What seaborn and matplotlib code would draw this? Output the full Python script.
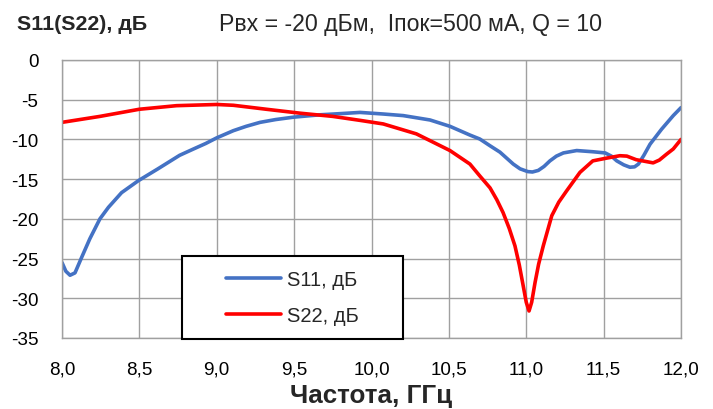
import numpy as np
import pandas as pd
import seaborn as sns
import matplotlib
matplotlib.use('Agg')
import matplotlib.pyplot as plt
from matplotlib import font_manager
from matplotlib.patches import Rectangle

# S11 readings (GHz, dB)
freq_s11 = [8.0, 8.025, 8.052, 8.084, 8.127, 8.18, 8.245, 8.30, 8.385, 8.493, 8.62,
            8.76, 8.85, 8.93, 9.0, 9.107, 9.19, 9.28, 9.38, 9.495, 9.58, 9.667, 9.80,
            9.926, 10.076, 10.205, 10.378, 10.507, 10.636, 10.70, 10.766, 10.83,
            10.916, 10.96, 11.01, 11.04, 11.078, 11.115, 11.153, 11.195, 11.24,
            11.326, 11.43, 11.51, 11.55, 11.585, 11.63, 11.67, 11.70, 11.725,
            11.76, 11.80, 11.875, 11.95, 12.0]
db_s11 = [-25.5, -26.6, -27.1, -26.8, -24.85, -22.5, -20.0, -18.55, -16.7, -15.2, -13.7,
          -12.0, -11.2, -10.5, -9.8, -8.9, -8.35, -7.85, -7.5, -7.2, -7.05, -6.9, -6.75,
          -6.6, -6.8, -7.0, -7.55, -8.35, -9.45, -9.95, -10.8, -11.6,
          -13.1, -13.7, -14.05, -14.1, -13.9, -13.4, -12.7, -12.1, -11.7,
          -11.4, -11.55, -11.7, -12.1, -12.7, -13.2, -13.5, -13.45, -13.1,
          -12.0, -10.6, -8.7, -7.0, -6.0]

# S22 readings (GHz, dB)
freq_s22 = [8.0, 8.245, 8.5, 8.74, 9.0, 9.107, 9.32, 9.54, 9.75, 9.926, 10.076, 10.29,
            10.507, 10.636, 10.70, 10.766, 10.81, 10.85, 10.89, 10.927, 10.955, 10.98,
            11.0, 11.018, 11.035, 11.057, 11.08, 11.11, 11.165, 11.21, 11.26, 11.347,
            11.43, 11.52, 11.605, 11.65, 11.71, 11.82, 11.86, 11.907, 11.95, 12.0]
db_s22 = [-7.85, -7.1, -6.2, -5.75, -5.6, -5.7, -6.2, -6.7, -7.1, -7.6, -8.05, -9.3,
          -11.4, -13.1, -14.6, -16.1, -17.6, -19.2, -21.2, -23.4, -25.8, -28.4,
          -30.5, -31.6, -30.5, -28.0, -25.7, -23.4, -19.6, -17.9, -16.5, -14.15,
          -12.7, -12.35, -12.05, -12.1, -12.55, -12.95, -12.6, -11.85, -11.2, -10.0]

x_ticks = [8.0, 8.5, 9.0, 9.5, 10.0, 10.5, 11.0, 11.5, 12.0]
y_ticks = [0, -5, -10, -15, -20, -25, -30, -35]
labels = ['S11, дБ', 'S22, дБ']

available = {f.name for f in font_manager.fontManager.ttflist}
narrow = 'Liberation Sans Narrow' if 'Liberation Sans Narrow' in available else 'Liberation Sans'

sns.set_style('white')
plt.rcParams['font.family'] = [narrow, 'DejaVu Sans']

df = pd.concat([
    pd.DataFrame({'f': freq_s11, 'db': db_s11, 's': labels[0]}),
    pd.DataFrame({'f': freq_s22, 'db': db_s22, 's': labels[1]}),
])

fig = plt.figure(figsize=(7.13, 4.10), dpi=100)
ax = fig.add_axes([62/713, 1-339/410, 619/713, 278/410])

sns.lineplot(data=df, x='f', y='db', hue='s', palette=['#4472C4', '#FF0000'],
             linewidth=2.6, estimator=None, ax=ax, legend=True)
for ln in ax.get_lines():
    ln.set_solid_joinstyle('round')
    ln.set_solid_capstyle('round')

ax.set_xlim(8.0, 12.0)
ax.set_ylim(-35, 0)
ax.set_xticks(x_ticks)
ax.set_yticks(y_ticks)
ax.set_xticklabels([('%.1f' % v).replace('.', ',') for v in x_ticks])
ax.set_yticklabels([str(v) for v in y_ticks])
ax.tick_params(axis='both', length=0, labelsize=13.6, colors='black')
ax.tick_params(axis='x', pad=16)
ax.tick_params(axis='y', pad=17)
ax.grid(True, color='#a0a0a0', linewidth=1.0)
ax.set_axisbelow(True)
for sp in ax.spines.values():
    sp.set_color('#a0a0a0')
    sp.set_linewidth(1.0)
ax.set_xlabel('')
ax.set_ylabel('')

# legend box
x0, x1 = (182-62)/619, (403-62)/619
y0, y1 = (339-340)/278, (339-257)/278
ax.add_patch(Rectangle((x0, y0), x1-x0, y1-y0, transform=ax.transAxes,
                       facecolor='white', edgecolor='black', linewidth=1.5,
                       zorder=4, clip_on=False))
handles, labs = ax.get_legend_handles_labels()
leg = ax.legend(handles, labs, loc='center', bbox_to_anchor=((x0+x1)/2, (y0+y1)/2),
                frameon=False, fontsize=14.5, handlelength=2.7, handletextpad=0.3,
                labelspacing=0.8)
leg.set_zorder(5)
for h in leg.get_lines():
    h.set_linewidth(2.6)

fig.text(17/713, 1-30/410, 'S11(S22), дБ', fontsize=15.4, fontweight='bold', va='baseline')
fig.text(219/713, 1-31.5/410, 'Pвх = -20 дБм,  Iпок=500 мА, Q = 10', fontsize=16.7, va='baseline')
fig.text(371.5/713, 1-403/410, 'Частота, ГГц', fontsize=18.7, fontweight='bold',
         ha='center', va='baseline')

fig.savefig('out.png', dpi=100)
